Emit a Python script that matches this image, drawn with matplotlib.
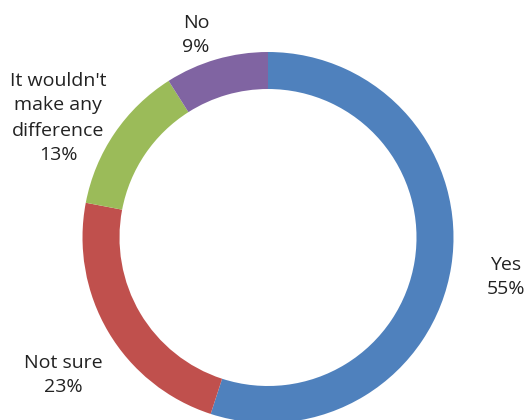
import matplotlib.pyplot as plt

labels = ['Yes', 'Not sure', "It wouldn't\nmake any\ndifference", 'No']
values = [55, 23, 13, 9]
colors = ['#4F81BD', '#C0504D', '#9BBB59', '#8064A2']

# label anchor points (pixels, y from bottom)
label_pos = [(506, 143), (63, 45), (58, 302), (196, 385)]

fig = plt.figure(figsize=(5.26, 4.20), dpi=100)
ax = fig.add_axes([0, 0, 1, 1])

ax.pie(values, colors=colors, startangle=90, counterclock=False,
       center=(268, 182.5), radius=185.5,
       wedgeprops=dict(width=37, linewidth=0), frame=True)
ax.set_xlim(0, 526)
ax.set_ylim(0, 420)
ax.axis('off')

for lab, v, (x, y) in zip(labels, values, label_pos):
    ax.text(x, y, f'{lab}\n{v}%', ha='center', va='center',
            fontsize=14, family='Open Sans', color='#222222',
            linespacing=1.5)

fig.savefig('out.png', dpi=100)
